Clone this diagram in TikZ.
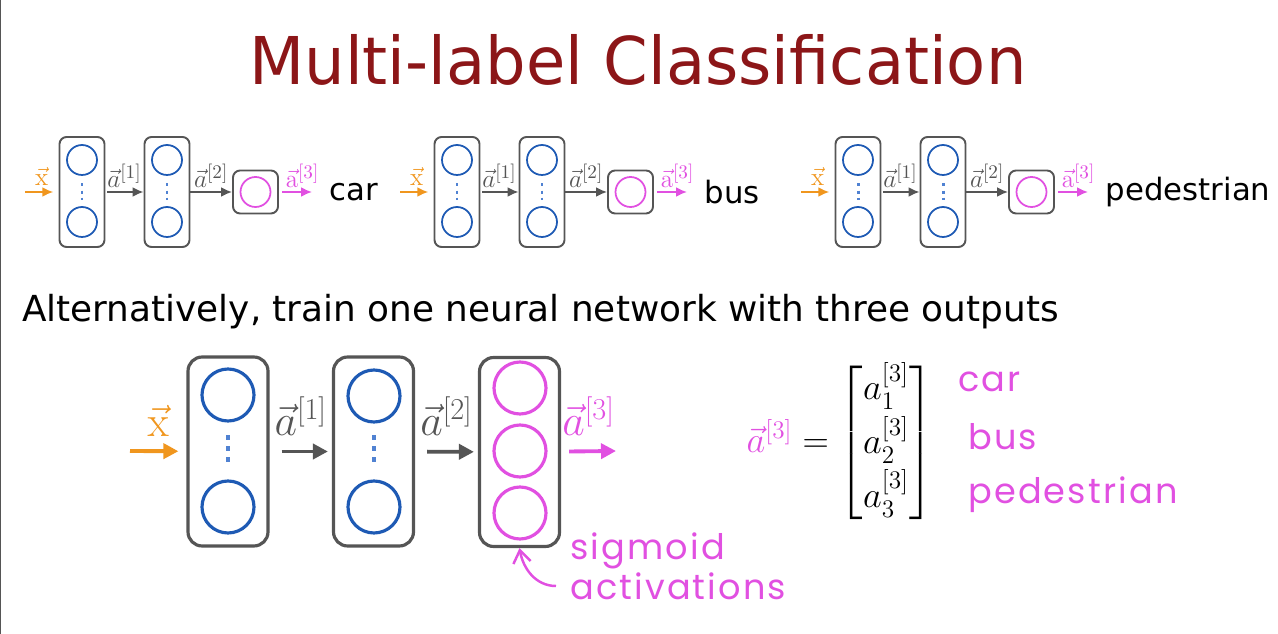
\documentclass[tikz,border=0pt]{standalone}
\usepackage{amsmath}
\usepackage[no-math]{fontspec}
\setmainfont{DejaVu Sans}
\newfontfamily\titlefont[FakeStretch=0.97]{DejaVu Sans}
\newfontfamily\handfont[LetterSpace=6]{Poppins}
\usetikzlibrary{arrows.meta,positioning}
\definecolor{TitleRed}{RGB}{140,22,24}
\definecolor{NeuronBlue}{RGB}{30,90,180}
\definecolor{DotBlue}{RGB}{80,130,210}
\definecolor{OutMagenta}{RGB}{225,80,225}
\definecolor{InOrange}{RGB}{240,150,30}
\definecolor{BoxGray}{RGB}{85,85,85}

\begin{document}
\begin{tikzpicture}[x=0.02cm, y=-0.02cm,
    sbox/.style={draw=BoxGray, line width=1.1pt, rounded corners=4pt, minimum width=0.9cm, minimum height=2.2cm},
    obox/.style={draw=BoxGray, line width=1.1pt, rounded corners=4pt, minimum width=0.9cm, minimum height=0.86cm},
    sneuron/.style={circle, draw=NeuronBlue, line width=1pt, minimum size=0.6cm, inner sep=0pt},
    sout/.style={sneuron, draw=OutMagenta},
    sdots/.style={DotBlue, line width=1.7pt, dash pattern=on 1.7pt off 2.3pt},
    sarr/.style={-{Latex[length=2.2mm,width=2mm]}, line width=1.1pt, BoxGray},
    soarr/.style={sarr, InOrange},
    smarr/.style={sarr, OutMagenta},
    slab/.style={font=\fontsize{15}{17}\selectfont, inner sep=1pt},
    clsname/.style={font=\fontsize{17.5}{21}\selectfont, inner sep=2pt},
    bbox/.style={draw=BoxGray, line width=1.8pt, rounded corners=8pt, minimum width=1.6cm, minimum height=3.78cm},
    bneuron/.style={circle, draw=NeuronBlue, line width=1.8pt, minimum size=1.04cm, inner sep=0pt},
    bout/.style={bneuron, draw=OutMagenta},
    bdots/.style={DotBlue, line width=2.8pt, dash pattern=on 2.8pt off 3.4pt},
    barr/.style={-{Triangle[length=3mm,width=3mm]}, line width=2.2pt, BoxGray},
    boarr/.style={barr, InOrange},
    bmarr/.style={barr, OutMagenta},
    blab/.style={font=\fontsize{27}{31}\selectfont, inner sep=1pt},
    hand/.style={font=\handfont\fontsize{20}{23}\selectfont, text=OutMagenta, inner sep=0pt},
    harr/.style={-{Straight Barb[length=2.5mm,width=3.5mm]}, line width=1.4pt, OutMagenta}
  ]
  \useasboundingbox (0,0) rectangle (1278,634);
  \draw[BoxGray, line width=0.8pt] (0.5,0) -- (0.5,634);

  \node[font=\titlefont\fontsize{37.5}{44}\selectfont, text=TitleRed] (title) at (638,60) {Multi-label Classification};

  % one small network per class
  \foreach \dx/\cls/\n in {0/car/p, 375/bus/q, 776/pedestrian/r} {
    \node[sbox] (\n1) at (82+\dx,192) {};
    \node[sneuron] (\n1t) at (82+\dx,160) {};
    \node[sneuron] (\n1b) at (82+\dx,222) {};
    \draw[sdots] (82+\dx,183.5) -- (82+\dx,200.5);
    \node[sbox] (\n2) at (167+\dx,192) {};
    \node[sneuron] (\n2t) at (167+\dx,160) {};
    \node[sneuron] (\n2b) at (167+\dx,222) {};
    \draw[sdots] (167+\dx,183.5) -- (167+\dx,200.5);
    \node[obox] (\n3) at (255.5+\dx,192) {};
    \node[sout] (\n3o) at (255.5+\dx,192) {};
    \coordinate (\n-x) at (25+\dx,192);
    \node[clsname, anchor=west] (\n-c) at (326+\dx,192) {\cls};
    \draw[soarr, shorten >=3pt] (\n-x) -- (\n1) node[midway, above=2pt, slab, text=InOrange] {$\vec{\mathrm{x}}$};
    \draw[sarr, shorten <=1pt] (\n1) -- (\n2) node[midway, above=1pt, slab] {$\vec{a}^{[1]}$};
    \draw[sarr] (\n2) -- (\n3) node[midway, above=1pt, slab] {$\vec{a}^{[2]}$};
    \draw[smarr, shorten <=2pt, shorten >=0.28cm] (\n3) -- (\n-c) node[midway, above=1pt, slab, text=OutMagenta] {$\vec{\mathrm{a}}^{[3]}$};
  }

  \node[font=\fontsize{20.4}{24}\selectfont, anchor=west] (alt) at (16,312) {Alternatively, train one neural network with three outputs};

  % one network with three outputs
  \node[bbox] (h1) at (228,451.5) {};
  \node[bneuron] (h1t) at (228,395) {};
  \node[bneuron] (h1b) at (228,507) {};
  \draw[bdots] (228,435.5) -- (228,462.5);
  \node[bbox] (h2) at (373.5,451.5) {};
  \node[bneuron] (h2t) at (374,396) {};
  \node[bneuron] (h2b) at (374,507) {};
  \draw[bdots] (374,435.5) -- (374,462.5);
  \node[bbox] (h3) at (519.5,452) {};
  \node[bout] (o1) at (520,388) {};
  \node[bout] (o2) at (520,451) {};
  \node[bout] (o3) at (520,513) {};
  \coordinate (bx) at (130,451);
  \coordinate (ba) at (616,451);
  \draw[boarr, shorten >=0.16cm] (bx) -- (h1) node[midway, above=6pt, blab, text=InOrange] {$\vec{\mathrm{x}}$};
  \draw[barr, shorten <=0.24cm, shorten >=0.08cm] (h1) -- (h2) node[midway, above=7pt, blab] {$\vec{a}^{[1]}$};
  \draw[barr, shorten <=0.24cm, shorten >=0.08cm] (h2) -- (h3) node[midway, above=7pt, blab] {$\vec{a}^{[2]}$};
  \draw[bmarr, shorten <=0.16cm] (h3) -- (ba) node[midway, above=7pt, blab, text=OutMagenta] {$\vec{a}^{[3]}$};

  \node[font=\fontsize{21}{25}\selectfont, inner sep=1pt] (eq) at (840,443) {\renewcommand{\arraystretch}{1.22}$\textcolor{OutMagenta}{\vec{a}^{[3]}} = \begin{bmatrix} a_1^{[3]} \\ a_2^{[3]} \\ a_3^{[3]} \end{bmatrix}$};
  \node[hand, anchor=west] (hcar) at (958,382) {car};
  \node[hand, anchor=west] (hbus) at (968,437) {bus};
  \node[hand, anchor=west] (hped) at (968,495) {pedestrian};

  \node[hand, align=left, anchor=west] (sig) at (570,566) {sigmoid\\activations};
  \draw[harr] ([shift={(-14,20)}]sig.west) to[out=180, in=-80] (h3.south);
\end{tikzpicture}
\end{document}
